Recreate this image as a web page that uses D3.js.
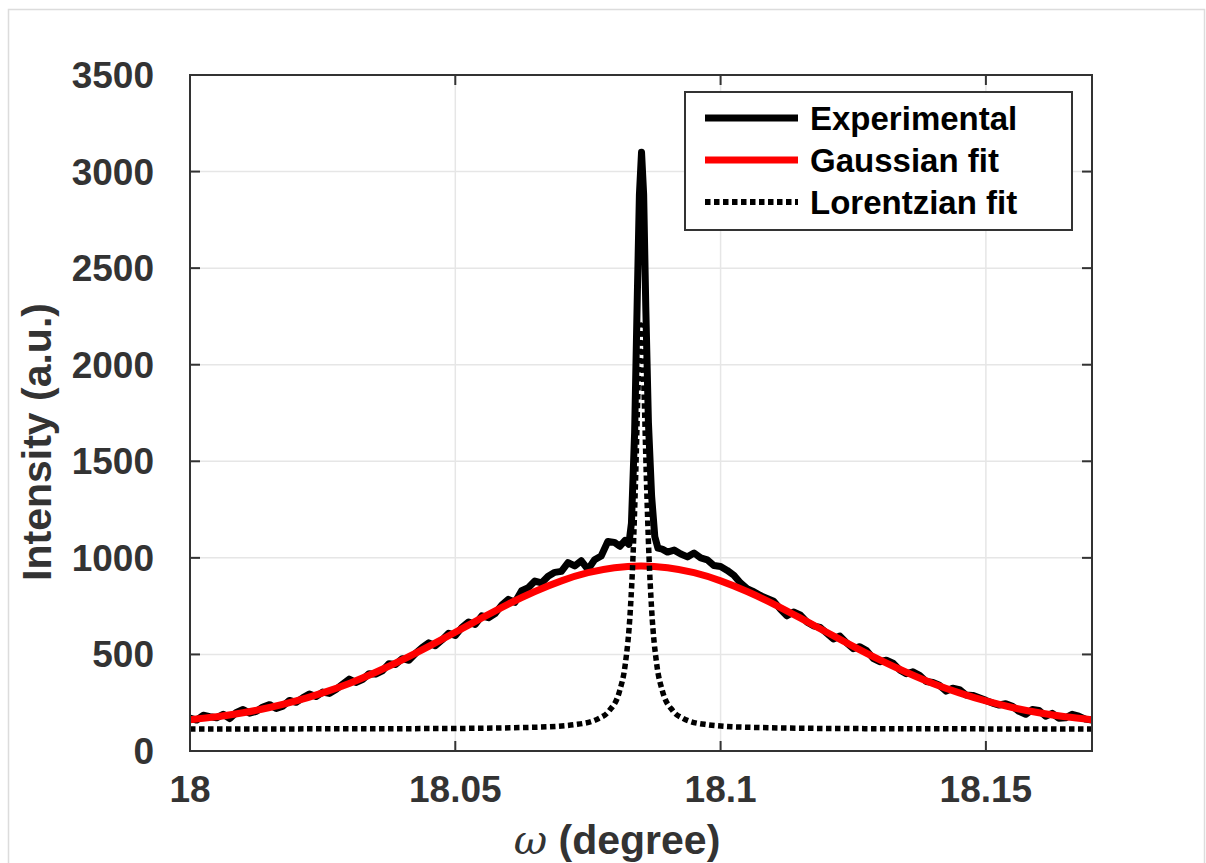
<!DOCTYPE html>
<html><head><meta charset="utf-8">
<script src="https://cdn.jsdelivr.net/npm/d3@7"></script>
<style>body{margin:0;background:#fff;} text{font-family:"Liberation Sans",Arial,sans-serif;}</style>
</head><body><svg id="c" width="1206" height="863"></svg>
<script>
// ---- data ----
const xTicks = [18, 18.05, 18.1, 18.15];
const xTickLabels = ["18", "18.05", "18.1", "18.15"];
const yTicks = [0, 500, 1000, 1500, 2000, 2500, 3000, 3500];
const seriesNames = ["Experimental", "Gaussian fit", "Lorentzian fit"];

const expX = [18.00000,18.00125,18.00250,18.00375,18.00500,18.00625,18.00750,18.00875,18.01000,18.01125,
  18.01250,18.01375,18.01500,18.01625,18.01750,18.01875,18.02000,18.02125,18.02250,18.02375,
  18.02500,18.02625,18.02750,18.02875,18.03000,18.03125,18.03250,18.03375,18.03500,18.03625,
  18.03750,18.03875,18.04000,18.04125,18.04250,18.04375,18.04500,18.04625,18.04750,18.04875,
  18.05000,18.05125,18.05250,18.05375,18.05500,18.05625,18.05750,18.05875,18.06000,18.06125,
  18.06250,18.06375,18.06500,18.06625,18.06750,18.06875,18.07000,18.07125,18.07250,18.07375,
  18.07500,18.07625,18.07750,18.07875,18.08000,18.08100,18.08200,18.08270,
  18.08320,18.08380,18.08430,18.08470,18.08510,18.08550,18.08590,18.08640,18.08700,18.08760,18.08820,
  18.08900,18.09000,18.09125,18.09250,18.09375,18.09500,18.09625,18.09750,18.09875,18.10000,
  18.10125,18.10250,18.10375,18.10500,18.10625,18.10750,18.10875,18.11000,18.11125,18.11250,
  18.11375,18.11500,18.11625,18.11750,18.11875,18.12000,18.12125,18.12250,18.12375,18.12500,
  18.12625,18.12750,18.12875,18.13000,18.13125,18.13250,18.13375,18.13500,18.13625,18.13750,
  18.13875,18.14000,18.14125,18.14250,18.14375,18.14500,18.14625,18.14750,18.14875,18.15000,
  18.15125,18.15250,18.15375,18.15500,18.15625,18.15750,18.15875,18.16000,18.16125,18.16250,
  18.16375,18.16500,18.16625,18.16750,18.16875,18.17000];
const expY = [170,160,185,178,172,190,168,200,215,196,
  205,228,240,220,232,262,252,275,295,282,
  305,298,318,345,372,355,370,400,398,415,
  452,448,478,470,505,535,560,545,575,610,
  598,640,668,655,700,690,712,755,785,770,
  830,845,880,870,905,925,930,975,958,985,
  940,990,1010,1085,1080,1060,1090,1070,
  1180,1650,2350,2880,3100,2880,2300,1700,1320,1110,1050,
  1045,1030,1040,1020,1005,1025,1000,990,960,955,
  935,910,870,840,825,805,790,775,735,700,
  720,705,668,648,640,610,580,595,560,530,
  540,520,480,462,470,455,420,400,410,392,
  360,355,340,310,325,318,290,288,275,262,
  248,238,245,232,205,190,215,210,180,195,
  170,172,190,180,165,160];

const gaussX = [18.000,18.005,18.010,18.015,18.020,18.025,18.030,18.035,18.040,18.045,
  18.050,18.055,18.060,18.065,18.070,18.075,18.080,18.085,18.090,18.095,
  18.100,18.105,18.110,18.115,18.120,18.125,18.130,18.135,18.140,18.145,
  18.150,18.155,18.160,18.165,18.170];
const gaussY = [162,177,198,225,259,301,350,408,472,542,
  615,689,761,826,881,923,949,958,949,923,
  881,826,761,689,615,542,472,408,350,301,
  259,225,198,177,162];

const lorX = [18.000,18.045,18.065,18.073,18.077,18.079,18.081,18.082,18.083,18.0835,
  18.084,18.0844,18.0847,18.085,18.0853,18.0856,18.086,18.0865,18.087,18.088,
  18.089,18.091,18.093,18.097,18.105,18.125,18.170];
const lorY = [114,116,123,138,168,208,314,442,735,1012,
  1428,1838,2098,2205,2098,1838,1428,1012,735,442,
  314,208,168,138,123,116,114];

// ---- layout ----
const svg = d3.select("#c");
const L = 190, R = 1092, T = 75, B = 751;
const x = d3.scaleLinear().domain([18, 18.17]).range([L, R]);
const y = d3.scaleLinear().domain([0, 3500]).range([B, T]);
const axisCol = "#333";
const line = d3.line().x(d => x(d[0])).y(d => y(d[1]));

svg.append("rect").attr("x", 8.5).attr("y", 9.5).attr("width", 1196).attr("height", 870)
  .attr("fill", "#fff").attr("stroke", "#dcdcdc").attr("stroke-width", 1.5);

// grid
const g = svg.append("g");
g.selectAll(".gx").data(xTicks).join("line")
  .attr("x1", d => x(d)).attr("x2", d => x(d)).attr("y1", T).attr("y2", B)
  .attr("stroke", "#e6e6e6").attr("stroke-width", 1.5);
g.selectAll(".gy").data(yTicks).join("line")
  .attr("y1", d => y(d)).attr("y2", d => y(d)).attr("x1", L).attr("x2", R)
  .attr("stroke", "#e6e6e6").attr("stroke-width", 1.5);

// curves
svg.append("clipPath").attr("id", "clp").append("rect")
  .attr("x", L).attr("y", T - 10).attr("width", R - L).attr("height", B - T + 10);
const plot = svg.append("g").attr("clip-path", "url(#clp)");

plot.append("path")
  .attr("d", line.curve(d3.curveLinear)(expX.map((d, i) => [d, expY[i]])))
  .attr("fill", "none").attr("stroke", "#000").attr("stroke-width", 7)
  .attr("stroke-linejoin", "round").attr("stroke-linecap", "round");

plot.append("path")
  .attr("d", line.curve(d3.curveNatural)(gaussX.map((d, i) => [d, gaussY[i]])))
  .attr("fill", "none").attr("stroke", "#ff0000").attr("stroke-width", 7);

plot.append("path")
  .attr("d", line.curve(d3.curveMonotoneX)(lorX.map((d, i) => [d, lorY[i]])))
  .attr("fill", "none").attr("stroke", "#000").attr("stroke-width", 5.5).attr("stroke-dasharray", "5.5,3.5");

// axes box
const ax = svg.append("g");
ax.append("rect").attr("x", L).attr("y", T).attr("width", R - L).attr("height", B - T)
  .attr("fill", "none").attr("stroke", axisCol).attr("stroke-width", 2);

// ticks (inward, both sides)
const tl = 10;
xTicks.forEach(t => {
  ax.append("line").attr("x1", x(t)).attr("x2", x(t)).attr("y1", B).attr("y2", B - tl).attr("stroke", axisCol).attr("stroke-width", 2);
  ax.append("line").attr("x1", x(t)).attr("x2", x(t)).attr("y1", T).attr("y2", T + tl).attr("stroke", axisCol).attr("stroke-width", 2);
});
yTicks.forEach(t => {
  ax.append("line").attr("y1", y(t)).attr("y2", y(t)).attr("x1", L).attr("x2", L + tl).attr("stroke", axisCol).attr("stroke-width", 2);
  ax.append("line").attr("y1", y(t)).attr("y2", y(t)).attr("x1", R).attr("x2", R - tl).attr("stroke", axisCol).attr("stroke-width", 2);
});

// tick labels
ax.selectAll(".xl").data(xTicks).join("text")
  .attr("x", d => x(d)).attr("y", 802).attr("text-anchor", "middle")
  .attr("font-size", 37).attr("font-weight", "bold").attr("fill", axisCol)
  .text((d, i) => xTickLabels[i]);
ax.selectAll(".yl").data(yTicks).join("text")
  .attr("x", 154).attr("y", d => y(d) + 13).attr("text-anchor", "end")
  .attr("font-size", 37).attr("font-weight", "bold").attr("fill", axisCol)
  .text(d => d);

// axis titles
const xt = svg.append("text").attr("x", 617).attr("y", 854).attr("text-anchor", "middle")
  .attr("font-size", 41).attr("font-weight", "bold").attr("fill", axisCol);
xt.append("tspan").attr("font-style", "italic").attr("font-weight", "normal").attr("font-family", "DejaVu Serif").text("ω");
xt.append("tspan").text(" (degree)");

svg.append("text").attr("transform", "translate(51,442) rotate(-90)").attr("text-anchor", "middle")
  .attr("font-size", 41).attr("font-weight", "bold").attr("fill", axisCol).text("Intensity (a.u.)");

// legend
const lg = svg.append("g");
lg.append("rect").attr("x", 685).attr("y", 92).attr("width", 387).attr("height", 138)
  .attr("fill", "#fff").attr("stroke", axisCol).attr("stroke-width", 2);
const legStyles = [
  {stroke: "#000", dash: null, w: 7},
  {stroke: "#ff0000", dash: null, w: 7},
  {stroke: "#000", dash: "5.5,3.5", w: 6}
];
const rowY = [118, 160, 202];
seriesNames.forEach((n, i) => {
  lg.append("line").attr("x1", 705).attr("x2", 798).attr("y1", rowY[i]).attr("y2", rowY[i])
    .attr("stroke", legStyles[i].stroke).attr("stroke-width", legStyles[i].w)
    .attr("stroke-dasharray", legStyles[i].dash);
  lg.append("text").attr("x", 810).attr("y", rowY[i] + 12).attr("font-size", 33)
    .attr("font-weight", "bold").attr("fill", "#000").text(n);
});
</script></body></html>
